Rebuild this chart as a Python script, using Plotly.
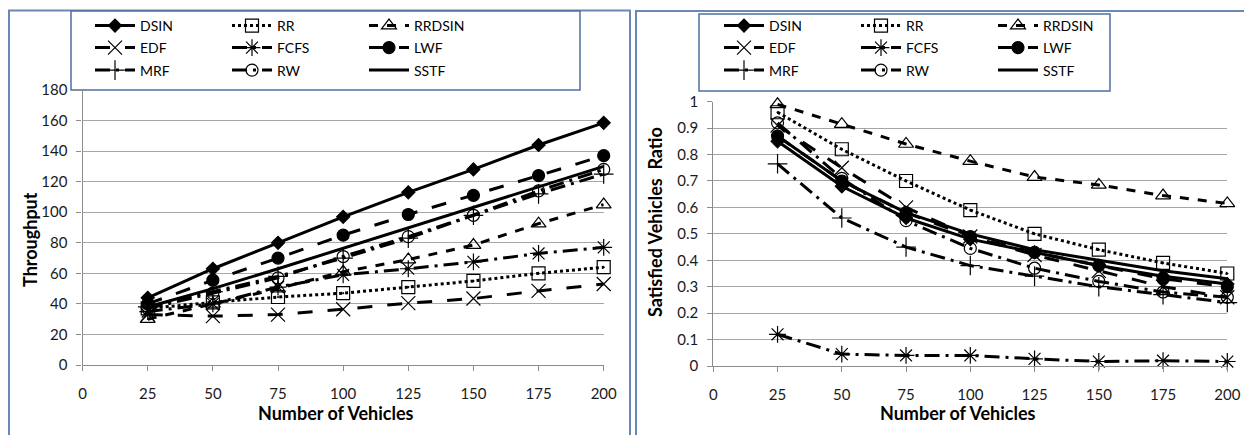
import plotly.graph_objects as go

x_vehicles = [25, 50, 75, 100, 125, 150, 175, 200]
series_names = ["DSIN", "RR", "RRDSIN", "EDF", "FCFS", "LWF", "MRF", "RW", "SSTF"]

# Throughput (left chart)
thr_DSIN   = [44, 63, 80, 97, 113, 128, 144, 158.5]
thr_RR     = [37, 41, 44.5, 47, 51, 55, 60, 64]
thr_RRDSIN = [30, 40, 50, 61, 69, 78.5, 92.5, 105]
thr_EDF    = [33, 32, 33, 36.5, 40.5, 43.5, 48.5, 53]
thr_FCFS   = [35, 40, 51, 59, 63, 67.5, 73, 77]
thr_LWF    = [40, 55.5, 70, 85, 98.5, 111, 124, 137]
thr_MRF    = [38, 48, 58, 70, 83, 98, 112, 125]
thr_RW     = [37, 47, 57, 71, 84, 98, 114, 128]
thr_SSTF   = [38, 50, 63, 76.5, 89.5, 103, 116.5, 130]

# Satisfied vehicles ratio (right chart)
svr_DSIN   = [0.85, 0.68, 0.56, 0.48, 0.43, 0.38, 0.34, 0.31]
svr_RR     = [0.96, 0.82, 0.70, 0.59, 0.50, 0.44, 0.39, 0.35]
svr_RRDSIN = [0.99, 0.915, 0.84, 0.775, 0.715, 0.685, 0.645, 0.615]
svr_EDF    = [0.91, 0.75, 0.60, 0.49, 0.42, 0.36, 0.30, 0.26]
svr_FCFS   = [0.12, 0.045, 0.04, 0.04, 0.027, 0.017, 0.02, 0.017]
svr_LWF    = [0.87, 0.70, 0.58, 0.49, 0.43, 0.38, 0.33, 0.30]
svr_MRF    = [0.765, 0.56, 0.45, 0.38, 0.34, 0.30, 0.27, 0.24]
svr_RW     = [0.92, 0.71, 0.55, 0.445, 0.37, 0.32, 0.28, 0.26]
svr_SSTF   = [0.87, 0.70, 0.58, 0.50, 0.44, 0.40, 0.36, 0.33]

thr_data = [thr_DSIN, thr_RR, thr_RRDSIN, thr_EDF, thr_FCFS, thr_LWF, thr_MRF, thr_RW, thr_SSTF]
svr_data = [svr_DSIN, svr_RR, svr_RRDSIN, svr_EDF, svr_FCFS, svr_LWF, svr_MRF, svr_RW, svr_SSTF]

y1_ticks = list(range(0, 181, 20))
y2_ticks = [0, 0.1, 0.2, 0.3, 0.4, 0.5, 0.6, 0.7, 0.8, 0.9, 1]
y2_ticklabels = ["0", "0.1", "0.2", "0.3", "0.4", "0.5", "0.6", "0.7", "0.8", "0.9", "1"]
x_ticks = [0, 25, 50, 75, 100, 125, 150, 175, 200]

styles = {
    "DSIN":   dict(dash="solid", symbol="diamond", size=10),
    "RR":     dict(dash="dot", symbol="square-open-dot", size=13),
    "RRDSIN": dict(dash="dash", symbol="triangle-up-open", size=13),
    "EDF":    dict(dash="longdash", symbol="x-thin-open", size=14),
    "FCFS":   dict(dash="longdashdot", symbol="asterisk-open", size=14),
    "LWF":    dict(dash="longdash", symbol="circle", size=12),
    "MRF":    dict(dash="longdashdot", symbol="cross-thin-open", size=14),
    "RW":     dict(dash="longdashdot", symbol="circle-open", size=12),
    "SSTF":   dict(dash="solid", symbol=None, size=0),
}

# The page body has an 8px margin; work in screen pixels and convert.
OFF = 8
W, H = 1244, 427
def px(xs): return (xs - OFF) / W
def py(ys): return 1 - (ys - OFF) / H

row_centers = [26, 48, 70.5]
legend_ids_left = ["legend", "legend2", "legend3"]
legend_ids_right = ["legend4", "legend5", "legend6"]

fig = go.Figure()
for data, xa, ya, legs in [(thr_data, "x", "y", legend_ids_left), (svr_data, "x2", "y2", legend_ids_right)]:
    for i, (name, vals) in enumerate(zip(series_names, data)):
        st = styles[name]
        if st["symbol"]:
            mode = "lines+markers"
            marker = dict(color="black", size=st["size"], symbol=st["symbol"],
                          line=dict(color="black", width=1.2))
        else:
            mode = "lines"
            marker = None
        fig.add_trace(go.Scatter(
            x=x_vehicles, y=vals, name=name, mode=mode, xaxis=xa, yaxis=ya, legend=legs[i // 3],
            line=dict(color="black", width=3, dash=st["dash"]),
            marker=marker, cliponaxis=False,
        ))

axis_common = dict(showline=True, linecolor="#8c8c8c", linewidth=1.3, ticks="outside", ticklen=5,
                   tickcolor="#8c8c8c", tickfont=dict(family="Lato", size=15, color="#1a1a1a"),
                   zeroline=False, automargin=False)

legend_common = dict(orientation="h", xanchor="left", yanchor="middle",
                     entrywidth=82, entrywidthmode="pixels", itemwidth=40, borderwidth=0,
                     bgcolor="rgba(0,0,0,0)", font=dict(family="Lato", size=14, color="black"),
                     traceorder="normal")

legends = {}
for lid, yc in zip(legend_ids_left, row_centers):
    legends[lid] = dict(x=px(90), y=py(yc), **legend_common)
for lid, yc in zip(legend_ids_right, row_centers):
    legends[lid] = dict(x=px(719), y=py(yc), **legend_common)

fig.update_layout(
    width=W, height=H, margin=dict(l=0, r=0, t=0, b=0, autoexpand=False),
    paper_bgcolor="white", plot_bgcolor="white", showlegend=True,
    xaxis=dict(domain=[px(82.6), px(603.7)], range=[0, 200], tickvals=x_ticks, showgrid=False,
               anchor="y", ticklabelstandoff=10, **axis_common),
    yaxis=dict(domain=[py(365), py(90)], range=[0, 180], tickvals=y1_ticks, showgrid=True,
               gridcolor="#a6a6a6", gridwidth=1.3, anchor="x", ticklabelstandoff=6, **axis_common),
    xaxis2=dict(domain=[px(713.3), px(1227.3)], range=[0, 200], tickvals=x_ticks, showgrid=False,
                anchor="y2", ticklabelstandoff=10, **axis_common),
    yaxis2=dict(domain=[py(366), py(101.7)], range=[0, 1], tickvals=y2_ticks, ticktext=y2_ticklabels,
                showgrid=True, gridcolor="#a6a6a6", gridwidth=1.3, anchor="x2", ticklabelstandoff=6, **axis_common),
    **legends,
)

frame_col = "#6a88b5"
# panel frames
fig.add_shape(type="rect", xref="paper", yref="paper", x0=px(9), x1=px(630), y0=py(470), y1=py(10.5),
              line=dict(color=frame_col, width=2), layer="below")
fig.add_shape(type="rect", xref="paper", yref="paper", x0=px(636), x1=px(1290), y0=py(470), y1=py(11),
              line=dict(color=frame_col, width=2), layer="below")
# legend boxes
fig.add_shape(type="rect", xref="paper", yref="paper", x0=px(71), x1=px(580), y0=py(90), y1=py(11),
              line=dict(color="#4f6fa0", width=1.5), fillcolor="white", layer="below")
fig.add_shape(type="rect", xref="paper", yref="paper", x0=px(699), x1=px(1110), y0=py(91), y1=py(14),
              line=dict(color="#4f6fa0", width=1.5), fillcolor="white", layer="below")

title_font = dict(family="Lato", size=18, color="black")
fig.add_annotation(text="<b>Number of Vehicles</b>", xref="paper", yref="paper", x=px(336), y=py(413),
                   showarrow=False, font=title_font, xanchor="center", yanchor="middle")
fig.add_annotation(text="<b>Number of Vehicles</b>", xref="paper", yref="paper", x=px(958), y=py(413),
                   showarrow=False, font=title_font, xanchor="center", yanchor="middle")
fig.add_annotation(text="<b>Throughput</b>", xref="paper", yref="paper", x=px(30), y=py(240),
                   showarrow=False, font=title_font, textangle=-90, xanchor="center", yanchor="middle")
fig.add_annotation(text="<b>Satisfied Vehicles  Ratio</b>", xref="paper", yref="paper", x=px(655), y=py(222),
                   showarrow=False, font=title_font, textangle=-90, xanchor="center", yanchor="middle")

fig.write_html("out.html")
